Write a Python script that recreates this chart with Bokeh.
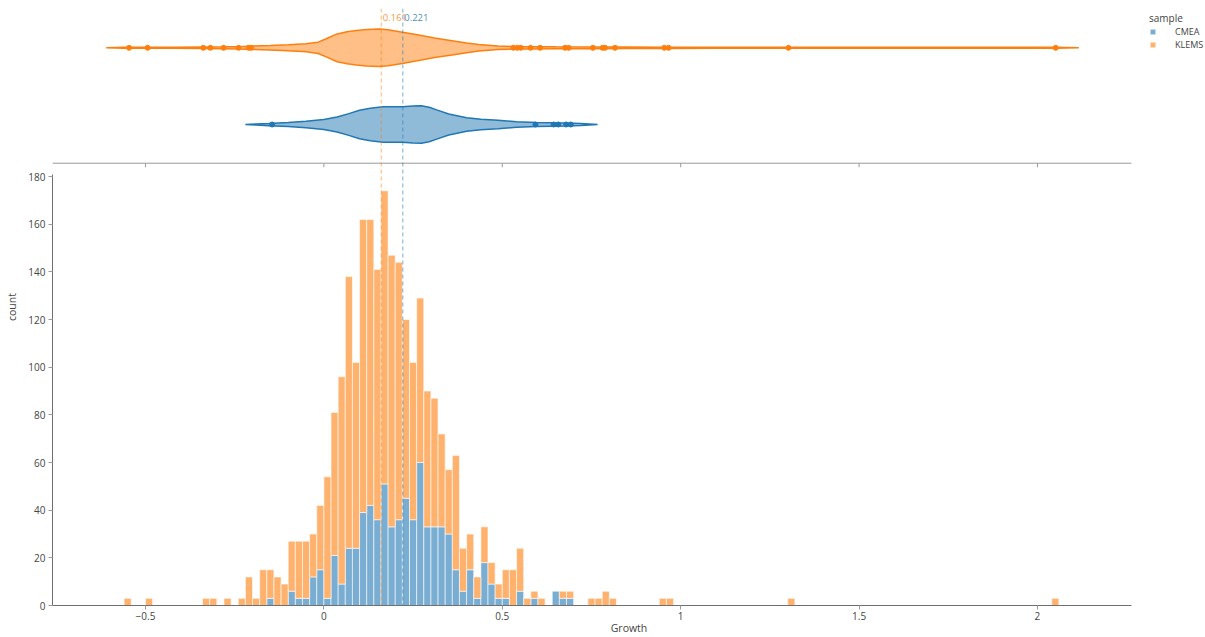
import numpy as np
from bokeh.plotting import figure
from bokeh.models import Range1d, FixedTicker, Span, Legend, LegendItem
from bokeh.embed import file_html
from bokeh.resources import INLINE
from bokeh.core.properties import value

# ---------------- data ----------------
SAMPLES = ["CMEA", "KLEMS"]
COLORS = {"CMEA": "#1f77b4", "KLEMS": "#ff7f0e"}

BIN_WIDTH = 0.02
BIN_LEFT = [-0.56, -0.50, -0.34, -0.32, -0.28, -0.24, -0.22, -0.20, -0.18, -0.16,
            -0.14, -0.12, -0.10, -0.08, -0.06, -0.04, -0.02, 0.00, 0.02, 0.04,
            0.06, 0.08, 0.10, 0.12, 0.14, 0.16, 0.18, 0.20, 0.22, 0.24,
            0.26, 0.28, 0.30, 0.32, 0.34, 0.36, 0.38, 0.40, 0.42, 0.44,
            0.46, 0.48, 0.50, 0.52, 0.54, 0.56, 0.58, 0.60, 0.64, 0.66,
            0.68, 0.74, 0.76, 0.78, 0.80, 0.94, 0.96, 1.30, 2.04]
CMEA_COUNT = [0, 0, 0, 0, 0, 0, 0, 0, 0, 3,
              0, 0, 6, 3, 3, 12, 15, 3, 21, 9,
              24, 24, 39, 42, 36, 51, 33, 36, 45, 36,
              60, 33, 33, 33, 30, 15, 6, 15, 3, 18,
              9, 3, 3, 0, 6, 0, 3, 0, 6, 3,
              3, 0, 0, 0, 0, 0, 0, 0, 0]
KLEMS_COUNT = [3, 3, 3, 3, 3, 3, 12, 3, 15, 12,
               12, 9, 21, 24, 24, 18, 27, 51, 60, 87,
               114, 78, 123, 120, 105, 123, 114, 108, 75, 66,
               69, 57, 54, 39, 27, 48, 18, 15, 9, 15,
               9, 6, 12, 15, 18, 3, 3, 3, 0, 3,
               3, 3, 3, 6, 3, 3, 3, 3, 3]

MEDIAN = {"CMEA": 0.221, "KLEMS": 0.161}

# violin outlines: x positions and relative half-width (1 = widest)
KLEMS_VIOLIN_X = [-0.61, -0.56, -0.50, -0.42, -0.34, -0.28, -0.24, -0.20, -0.15, -0.10,
                  -0.05, -0.016, 0.005, 0.037, 0.065, 0.091, 0.12, 0.155, 0.18, 0.22,
                  0.25, 0.273, 0.31, 0.359, 0.40, 0.434, 0.488, 0.53, 0.58, 0.65,
                  0.75, 0.85, 0.95, 1.10, 1.30, 1.60, 1.90, 2.05, 2.116]
KLEMS_VIOLIN_W = [0.0, 0.03, 0.03, 0.03, 0.04, 0.05, 0.06, 0.09, 0.12, 0.16,
                  0.21, 0.30, 0.47, 0.74, 0.85, 0.92, 0.97, 1.0, 0.96, 0.83,
                  0.73, 0.65, 0.52, 0.38, 0.26, 0.17, 0.09, 0.07, 0.06, 0.05,
                  0.045, 0.04, 0.035, 0.03, 0.03, 0.03, 0.03, 0.03, 0.0]
CMEA_VIOLIN_X = [-0.22, -0.19, -0.155, -0.10, -0.05, 0.0, 0.037, 0.07, 0.10, 0.13,
                 0.166, 0.22, 0.25, 0.273, 0.295, 0.316, 0.35, 0.40, 0.44, 0.488,
                 0.54, 0.595, 0.64, 0.68, 0.72, 0.767]
CMEA_VIOLIN_W = [0.0, 0.03, 0.06, 0.11, 0.17, 0.27, 0.40, 0.58, 0.76, 0.87,
                 0.94, 0.95, 0.98, 1.0, 0.92, 0.78, 0.56, 0.36, 0.28, 0.22,
                 0.15, 0.11, 0.09, 0.08, 0.05, 0.0]

KLEMS_OUTLIERS = [-0.546, -0.494, -0.338, -0.318, -0.281, -0.239, -0.211, -0.204,
                  0.531, 0.542, 0.552, 0.579, 0.606, 0.676, 0.686, 0.754, 0.781,
                  0.788, 0.816, 0.954, 0.966, 1.302, 2.051]
CMEA_OUTLIERS = [-0.145, 0.593, 0.644, 0.657, 0.679, 0.692]

X_TICKS = [-0.5, 0.0, 0.5, 1.0, 1.5, 2.0]
X_TICK_LABELS = ["\u22120.5", "0", "0.5", "1", "1.5", "2"]
Y_TICKS = [0, 20, 40, 60, 80, 100, 120, 140, 160, 180]

# ---------------- layout / style ----------------
FONT = "Open Sans"
TXT = "#444444"
X_RANGE = (-0.7606, 2.4709)
X_AXIS_END = 2.2634
Y_RANGE = (0, 250.5)
Y_AXIS_END = 180.7
V_RANGE = (-6.271, 1.5124)       # violin panel: CMEA at 0, KLEMS at 1
V_POS = {"CMEA": 0.0, "KLEMS": 1.0}
V_HALF = 0.245
V_AXIS_Y = -0.5046
V_TICK_Y = -0.557
V_LABEL_Y = 1.391

p = figure(width=1205, height=637, x_range=Range1d(*X_RANGE), y_range=Range1d(*Y_RANGE),
           output_backend="svg", toolbar_location=None,
           min_border_left=52, min_border_right=0, min_border_top=8, min_border_bottom=32)
p.extra_y_ranges = {"v": Range1d(*V_RANGE)}
p.outline_line_color = None
p.xgrid.grid_line_color = None
p.ygrid.grid_line_color = None
p.background_fill_color = "white"

# ---- stacked histogram ----
left = np.array(BIN_LEFT)
right = left + BIN_WIDTH
cmea = np.array(CMEA_COUNT, dtype=float)
klems = np.array(KLEMS_COUNT, dtype=float)
bars = {}
mc = cmea > 0
bars["CMEA"] = p.quad(left=left[mc], right=right[mc], bottom=0, top=cmea[mc],
                      fill_color=COLORS["CMEA"], fill_alpha=0.6, line_color="white", line_width=0.6)
mk = klems > 0
bars["KLEMS"] = p.quad(left=left[mk], right=right[mk], bottom=cmea[mk], top=(cmea + klems)[mk],
                       fill_color=COLORS["KLEMS"], fill_alpha=0.6, line_color="white", line_width=0.6)

# ---- violins ----
violins = {"KLEMS": (KLEMS_VIOLIN_X, KLEMS_VIOLIN_W, KLEMS_OUTLIERS),
           "CMEA": (CMEA_VIOLIN_X, CMEA_VIOLIN_W, CMEA_OUTLIERS)}
for name, (vx, vw, outl) in violins.items():
    vx = np.array(vx)
    vw = np.array(vw) * V_HALF
    c = V_POS[name]
    xs = np.concatenate([vx, vx[::-1]])
    ys = np.concatenate([c + vw, (c - vw)[::-1]])
    p.patch(xs, ys, fill_color=COLORS[name], fill_alpha=0.5, line_color=COLORS[name],
            line_width=1.5, y_range_name="v")
    p.scatter(outl, [c] * len(outl), size=5, color=COLORS[name], y_range_name="v")

# ---- axis line of the violin panel ----
p.segment(x0=[X_RANGE[0]], x1=[X_AXIS_END], y0=[V_AXIS_Y], y1=[V_AXIS_Y],
          line_color="#9a9a9a", line_width=1, y_range_name="v")
p.segment(x0=X_TICKS, x1=X_TICKS, y0=[V_AXIS_Y] * len(X_TICKS), y1=[V_TICK_Y] * len(X_TICKS),
          line_color="#9a9a9a", line_width=1, y_range_name="v")

# ---- medians ----
for name in ["KLEMS", "CMEA"]:
    p.add_layout(Span(location=MEDIAN[name], dimension="height", line_color=COLORS[name],
                      line_alpha=0.4, line_width=1.5, line_dash="4 3"))
p.text(x=[MEDIAN["KLEMS"], MEDIAN["CMEA"]], y=[V_LABEL_Y, V_LABEL_Y],
       text=[f"{MEDIAN['KLEMS']:.3f}", f"{MEDIAN['CMEA']:.3f}"],
       text_color=[COLORS["KLEMS"], COLORS["CMEA"]], text_alpha=0.85,
       x_offset=1.5, text_align="left", text_baseline="middle",
       text_font=value(FONT), text_font_size="9.5px", y_range_name="v")

# ---- axes ----
xa = p.xaxis[0]
xa.ticker = FixedTicker(ticks=X_TICKS)
xa.major_label_overrides = {t: l for t, l in zip(X_TICKS, X_TICK_LABELS)}
xa.bounds = (X_RANGE[0], X_AXIS_END)
xa.axis_line_color = "#707070"
xa.major_tick_line_color = "#9a9a9a"
xa.major_tick_out = 4
xa.major_tick_in = 0
xa.minor_tick_out = 0
xa.minor_tick_in = 0
xa.major_label_standoff = 2
xa.major_label_text_font = FONT
xa.major_label_text_font_size = "10px"
xa.major_label_text_color = TXT
xa.axis_label = "Growth"
xa.axis_label_text_font = FONT
xa.axis_label_text_font_size = "10.5px"
xa.axis_label_text_font_style = "normal"
xa.axis_label_text_color = TXT
xa.axis_label_standoff = -2

ya = p.yaxis[0]
ya.ticker = FixedTicker(ticks=Y_TICKS)
ya.bounds = (0, Y_AXIS_END)
ya.axis_line_color = "#707070"
ya.major_tick_line_color = "#9a9a9a"
ya.major_tick_out = 4
ya.major_tick_in = 0
ya.minor_tick_out = 0
ya.minor_tick_in = 0
ya.major_label_standoff = 3
ya.major_label_text_font = FONT
ya.major_label_text_font_size = "10px"
ya.major_label_text_color = TXT
ya.axis_label = "count"
ya.axis_label_text_font = FONT
ya.axis_label_text_font_size = "10.5px"
ya.axis_label_text_font_style = "normal"
ya.axis_label_text_color = TXT
ya.axis_label_standoff = 6

# ---- legend (uses the histogram bar renderers) ----
legend = Legend(items=[LegendItem(label=n, renderers=[bars[n]]) for n in SAMPLES],
                location=(1097, 554), title="sample",
                title_text_font=FONT, title_text_font_size="10px", title_text_color=TXT,
                title_text_font_style="normal", title_standoff=0,
                label_text_font=FONT, label_text_font_size="9px", label_text_color=TXT,
                label_height=12, glyph_height=7, glyph_width=7, label_standoff=19,
                spacing=0, padding=3, margin=0,
                background_fill_alpha=0, border_line_color=None)
p.add_layout(legend)

open("out.html", "w").write(file_html(p, INLINE))
